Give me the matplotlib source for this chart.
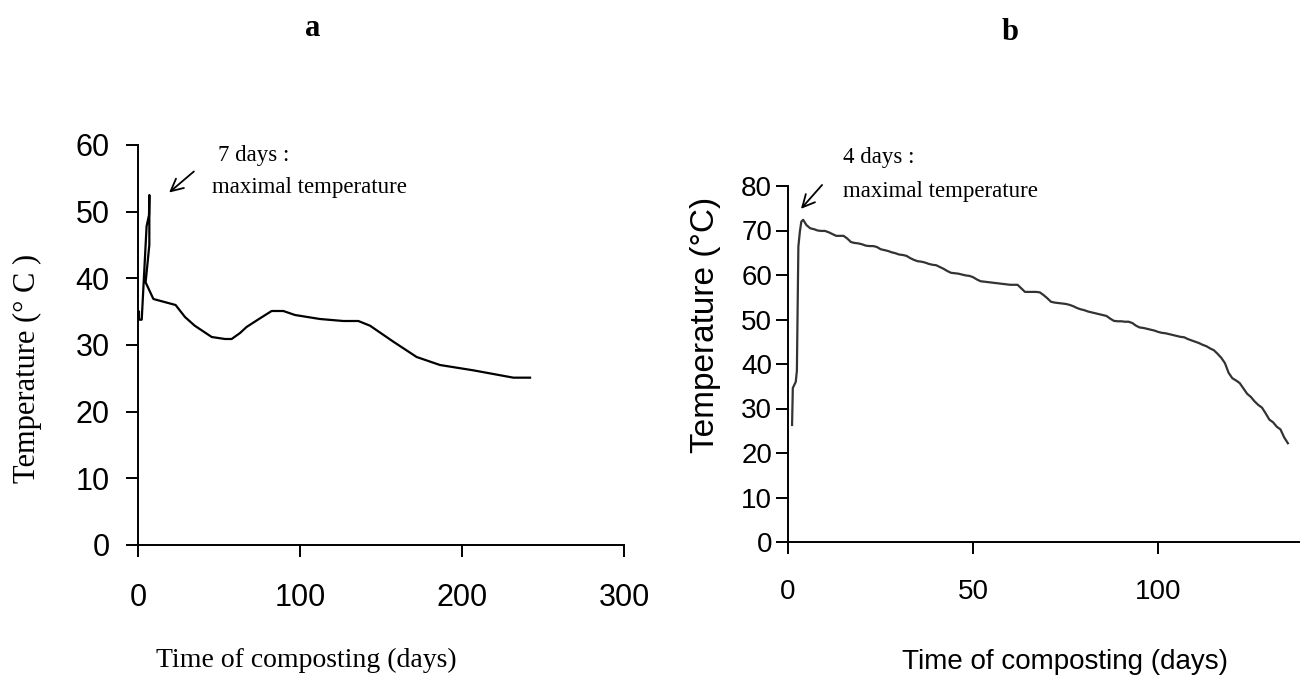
import matplotlib
matplotlib.use('Agg')
import matplotlib.pyplot as plt

# panel a: temperature during composting (days, degC)
days_a = [0.6, 0.6, 2.3, 3.2, 5.3, 6.8, 7.0, 7.0, 4.7, 9.5, 23.2, 29.0, 35.0, 45.5, 53.7,
          57.8, 63.0, 67.0, 75.3, 82.5, 89.7, 96.9, 112.3, 126.7, 136.0, 143.2, 157.6,
          172.0, 186.4, 207.0, 231.7, 242.0]
temp_a = [35.0, 33.8, 33.8, 38.0, 47.8, 49.5, 52.5, 45.0, 39.4, 36.9, 36.0, 34.2, 32.9, 31.2, 30.9,
          30.9, 31.8, 32.7, 34.0, 35.1, 35.1, 34.5, 33.9, 33.6, 33.6, 32.9, 30.5,
          28.2, 27.0, 26.2, 25.1, 25.1]

# panel b
days_b = [1.1, 1.3, 2.1, 2.4, 2.8, 3.2, 3.6, 4.1, 5.0,
          6, 7, 8, 9, 10, 11, 12, 13, 14, 15, 16, 17, 18, 19, 20, 21, 22, 23, 24, 25,
          26, 27, 28, 29, 30, 31, 32, 33, 34, 35, 36, 37, 38, 39, 40, 41, 42, 43, 44, 45,
          46, 47, 48, 49, 50, 51, 52, 53, 54, 55, 56, 57, 58, 59, 60, 61, 62, 63, 64, 65,
          66, 67, 68, 69, 70, 71, 72, 73, 74, 75, 76, 77, 78, 79, 80, 81, 82, 83, 84, 85,
          86, 87, 88, 89, 90, 91, 92, 93, 94, 95, 96, 97, 98, 99, 100, 101, 102, 103, 104, 105,
          106, 107, 108, 109, 110, 111, 112, 113, 114, 115, 116, 117, 118, 119, 120, 121, 122, 123, 124, 125,
          126, 127, 128, 129, 130, 131, 132, 133, 134, 135]
temp_b = [26.3, 34.6, 36.0, 38.5, 66.4, 69.7, 72.0, 72.4, 71.2,
          70.5, 70.3, 70.0, 69.9, 69.9, 69.6, 69.2, 68.8, 68.8, 68.8, 68.2, 67.4, 67.2, 67.1, 66.9, 66.6, 66.5, 66.5, 66.3, 65.8,
          65.6, 65.4, 65.1, 64.9, 64.6, 64.5, 64.3, 63.8, 63.4, 63.1, 63.0, 62.8, 62.5, 62.3, 62.2, 61.8, 61.4, 60.9, 60.5, 60.4,
          60.3, 60.1, 59.9, 59.8, 59.5, 59.0, 58.6, 58.5, 58.4, 58.3, 58.2, 58.1, 58.0, 57.9, 57.8, 57.8, 57.8, 57.0, 56.2, 56.2,
          56.2, 56.2, 56.1, 55.5, 54.8, 54.0, 53.8, 53.7, 53.6, 53.5, 53.3, 53.0, 52.6, 52.3, 52.1, 51.8, 51.6, 51.4, 51.2, 51.0,
          50.8, 50.2, 49.7, 49.6, 49.6, 49.5, 49.5, 49.2, 48.6, 48.2, 48.1, 47.9, 47.7, 47.5, 47.2, 47.0, 46.9, 46.7, 46.5, 46.3,
          46.1, 46.0, 45.6, 45.3, 45.0, 44.7, 44.3, 44.0, 43.5, 43.1, 42.3, 41.4, 40.2, 38.0, 36.8, 36.3, 35.7, 34.5, 33.3, 32.6,
          31.6, 30.8, 30.2, 28.9, 27.5, 26.9, 25.9, 25.3, 23.5, 22.2]

xticks_a = [0, 100, 200, 300]
yticks_a = [0, 10, 20, 30, 40, 50, 60]
xticks_b = [0, 50, 100]
yticks_b = [0, 10, 20, 30, 40, 50, 60, 70, 80]

serif = 'Liberation Serif'
sans = 'Liberation Sans'

fig = plt.figure(figsize=(13.08, 6.79), dpi=100)
W, H = 1308, 679

def box(l, r, b, t):
    return [l / W, 1 - b / H, (r - l) / W, (b - t) / H]

def style(ax, fs, ypad, xpad):
    for s in ['top', 'right']:
        ax.spines[s].set_visible(False)
    for s in ['left', 'bottom']:
        ax.spines[s].set_linewidth(1.4)
        ax.spines[s].set_color('black')
    ax.tick_params(axis='both', direction='out', length=8.5, width=1.4, labelsize=fs)
    ax.tick_params(axis='y', pad=ypad)
    ax.tick_params(axis='x', pad=xpad)
    for lab in ax.get_xticklabels() + ax.get_yticklabels():
        lab.set_family(sans)

# ---- a
ax1 = fig.add_axes(box(138, 624, 545, 145))
ax1.plot(days_a, temp_a, color='black', lw=1.6)
ax1.set_xlim(0, 300)
ax1.set_ylim(0, 60)
ax1.set_xticks(xticks_a)
ax1.set_yticks(yticks_a)
style(ax1, 22, 12, 19)
ax1.set_xlabel('Time of composting (days)', family=serif, fontsize=20)
ax1.xaxis.set_label_coords(0.346, -0.2875)
ax1.xaxis.label.set_va('center')
ax1.set_ylabel('Temperature (° C )', family=serif, fontsize=22)
ax1.yaxis.set_label_coords(-0.228, 0.4425)
ax1.yaxis.label.set_va('center')
ax1.text(49.4, 58.5, '7 days :', family=serif, fontsize=16.5, va='center', ha='left', clip_on=False)
ax1.text(45.7, 53.7, 'maximal temperature', family=serif, fontsize=16.5, va='center', ha='left', clip_on=False)
ax1.annotate('', xy=(17.9, 52.6), xytext=(35.8, 56.3),
             arrowprops=dict(arrowstyle='->', color='black', lw=1.3, mutation_scale=22),
             annotation_clip=False)

# ---- b
ax2 = fig.add_axes(box(788, 1299, 542, 186))
ax2.plot(days_b, temp_b, color='#333333', lw=1.6)
ax2.set_xlim(0, 138)
ax2.set_ylim(0, 80)
ax2.set_xticks(xticks_b)
ax2.set_yticks(yticks_b)
style(ax2, 20, 3, 18)
ax2.set_xlabel('Time of composting (days)', family=sans, fontsize=20)
ax2.xaxis.set_label_coords(0.542, -0.337)
ax2.xaxis.label.set_va('center')
ax2.set_ylabel('Temperature (°C)', family=sans, fontsize=24)
ax2.yaxis.set_label_coords(-0.162, 0.61)
ax2.yaxis.label.set_va('center')
ax2.text(14.9, 86.3, '4 days :', family=serif, fontsize=16.5, va='center', ha='left', clip_on=False)
ax2.text(14.9, 78.7, 'maximal temperature', family=serif, fontsize=16.5, va='center', ha='left', clip_on=False)
ax2.annotate('', xy=(3.0, 74.4), xytext=(9.7, 80.7),
             arrowprops=dict(arrowstyle='->', color='black', lw=1.3, mutation_scale=22),
             annotation_clip=False)

fig.text(313 / W, 1 - 28 / H, 'a', family=serif, fontweight='bold', fontsize=22, ha='center', va='center')
fig.text(1010 / W, 1 - 33 / H, 'b', family=serif, fontweight='bold', fontsize=22, ha='center', va='center')

fig.savefig('out.png', dpi=100, facecolor='white')
